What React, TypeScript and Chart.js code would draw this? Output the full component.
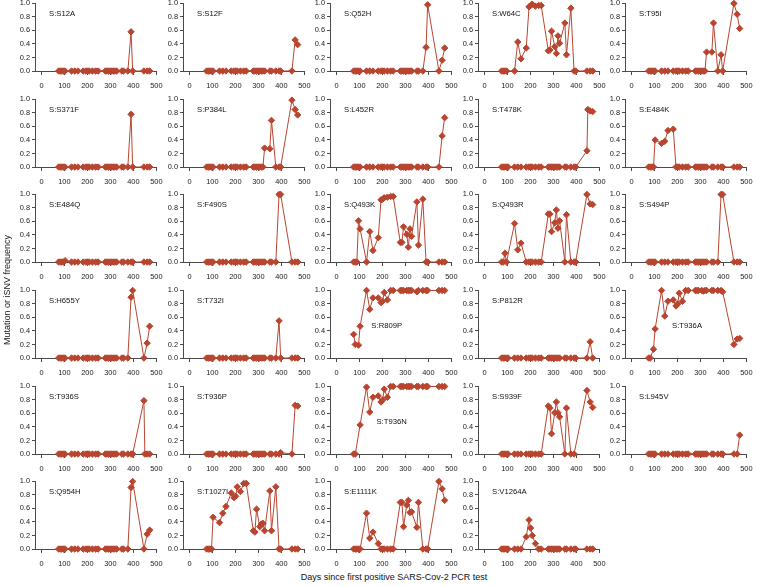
import React, { useEffect, useRef } from 'react';
import { Chart, registerables } from 'chart.js';
Chart.register(...registerables);

// ---------- data ----------
const days = [75, 82, 89, 96, 103, 131, 145, 159, 182, 194, 201, 208, 222, 236, 247, 278, 285, 292, 299, 306, 313, 320, 327, 350, 357, 376, 390, 397, 446, 450, 460, 471];
const xTicks = [0, 100, 200, 300, 400, 500];
const yTicks = [0, 0.2, 0.4, 0.6, 0.8, 1.0];

const panelNames = [
  'S:S12A', 'S:S12F', 'S:Q52H', 'S:W64C', 'S:T95I',
  'S:S371F', 'S:P384L', 'S:L452R', 'S:T478K', 'S:E484K',
  'S:E484Q', 'S:F490S', 'S:Q493K', 'S:Q493R', 'S:S494P',
  'S:H655Y', 'S:T732I', 'S:R809P', 'S:P812R', 'S:T936A',
  'S:T936S', 'S:T936P', 'S:T936N', 'S:S939F', 'S:L945V',
  'S:Q954H', 'S:T1027I', 'S:E1111K', 'S:V1264A',
];

const vS12A = [0,0,0,0,0, 0,0,0, 0,0,0,0,0,0,0, 0,0,0,0,0,0,0,0, 0,0, 0,0.58,0, 0,null,0,0];
const vS12F = [0,0,0,0,0, 0,0,0, 0,0,0,0,0,0,0, 0,0,0,0,0,0,0,0, 0,0, 0,0,0, 0,null,0.46,0.39];
const vQ52H = [0,0,0,0,0, 0,0,0, 0,0,0,0,0,0,0, 0,0,0,0,0,0,0,0, 0,0, 0,0.35,0.98, 0,null,0.16,0.34];
const vW64C = [0,0,0,0,null, 0,0.43,0.18, 0.34,0.95,0.97,0.99,0.96,0.97,0.97, 0.30,0.31,0.59,null,0.36,0.26,0.52,0.41, 0.71,0.24, 0.93,0,0, 0,null,0,0];
const vT95I = [0,0,0,0,0, 0,0,0, 0,0,0,0,0,0,0, 0,0,0,0,0,0,0,0.28, 0.28,0.71, 0,0.24,0, 1.0,null,0.84,0.63];
const vS371F = [0,0,0,0,0, 0,0,0, 0,0,0,0,0,0,0, 0,0,0,0,0,0,0,0, 0,0, 0,0.78,0, 0,null,0,0];
const vP384L = [0,0,0,0,0, 0,0,0, 0,0,0,0,0,0,0, 0,0,0,0,0,0,0,0.28, 0.27,0.69, 0,0,0, 0.99,null,0.85,0.77];
const vL452R = [0,0,0,0,0, 0,0,0, 0,0,0,0,0,0,0, 0,0,0,0,0,0,0,0, 0,0, 0,0,0, 0,null,0.46,0.73];
const vT478K = [0,0,0,0,0, 0,0,0, 0,0,0,0,0,0,0, 0,0,0,0,0,0,0,0, 0,0, 0,0,0, 0.24,0.85,0.83,0.82];
const vE484K = [0,0,0,0,0.40, 0.35,0.38,0.54, 0.56,0,0,0,0,0,0, 0,0,0,0,0,0,0,0, 0,0, 0,0,0, 0,null,0,0];
const vE484Q = [0,0,0,0,0.02, 0,0,0, 0,0,0,0,0,0,0, 0,0,0,0,0,0,0,0, 0,0, 0,0,0, 0,null,0,0];
const vF490S = [0,0,0,0,0, 0,0,0, 0,0,0,0,0,0,0, 0,0,0,0,0,0,0,0, 0,0, 0,1.0,1.0, 0,null,0,0];
const vQ493K = [0,0,0,0.61,0.49, 0,0.45,0.17, 0.36,0.92,0.93,0.95,0.96,0.97,0.97, 0.29,0.29,0.52,null,0.41,0.22,0.49,0.38, 0.89,0.25, 0.93,0,0, 0,null,0,0];
const vQ493R = [0,0,0.13,0,null, 0.57,0.18,0.28, 0,0,0,0,0,0,0, 0.71,0.71,0.45,null,0.58,0.77,0.50,0.61, 0,0.70, 0,0,0, 1.0,null,0.86,0.85];
const vS494P = [0,0,0,0,0, 0,0,0, 0,0,0,0,0,0,0, 0,0,0,0,0,0,0,0, 0,0, 0,1.0,1.0, 0,null,0,0];
const vH655Y = [0,0,0,0,0, 0,0,0, 0,0,0,0,0,0,0, 0,0,0,0,0,0,0,0, 0,0, 0,0.90,1.0, 0,null,0.22,0.47];
const vT732I = [0,0,0,0,0, 0,0,0, 0,0,0,0,0,0,0, 0,0,0,0,0,0,0,0, 0,0, 0,0.55,0, 0,null,0,0];
const vR809P = [0.35,0.20,null,0.19,0.47, 1.0,0.72,0.89, 0.89,0.82,0.84,0.97,0.86,1.0,1.0, 1.0,1.0,1.0,null,1.0,1.0,1.0,1.0, 0.98,1.0, 1.0,1.0,1.0, 1.0,null,1.0,1.0];
const vP812R = [0,0,0,0,0, 0,0,0, 0,0,0,0,0,0,0, 0,0,0,0,0,0,0,0, 0,0, 0,0,0, 0,null,0.24,0];
const vT936A = [0,0,null,0.13,0.43, 1.0,0.62,0.84, 0.86,0.77,0.80,0.96,0.84,1.0,1.0, 1.0,1.0,1.0,null,1.0,0.99,1.0,1.0, 1.0,1.0, 1.0,1.0,0.98, 0.20,null,0.28,0.29];
const vT936S = [0,0,0,0,0, 0,0,0, 0,0,0,0,0,0,0, 0,0,0,0,0,0,0,0, 0,0, 0,0,0, 0.79,0,0,0];
const vT936P = [0,0,0,0,0, 0,0,0, 0,0,0,0,0,0,0, 0,0,0,0,0,0,0,0, 0,0, 0,0,0.02, 0,null,0.72,0.71];
const vT936N = [0,0,null,null,0.43, 0.99,0.62,0.84, 0.86,0.77,0.80,0.96,0.84,1.0,1.0, 1.0,1.0,1.0,null,1.0,1.0,1.0,1.0, 1.0,1.0, 1.0,1.0,1.0, 1.0,null,1.0,1.0];
const vS939F = [0,0,0,0,0, 0,0,0, 0,0,0,0,0,0,0, 0.71,0.68,0.30,null,0.61,0.77,0.61,0.55, 0,0.68, 0,0,null, 0.94,null,0.77,0.69];
const vL945V = [0,0,0,0,0, 0,0,0, 0,0,0,0,0,0,0, 0,0,0,0,0,0,0,0, 0,0, 0,0,0, 0,null,0,0.28];
const vQ954H = [0,0,0,0,0, 0,0,0, 0,0,0,0,0,0,0, 0,0,0,0,0,0,0,0, 0,0, 0,0.91,1.0, 0,null,0.22,0.28];
const vT1027I = [0,0,0,0,0.47, 0.39,0.53,0.63, 0.83,0.76,0.78,0.92,0.85,0.97,0.97, 0.27,0.25,0.59,null,0.33,0.37,0.38,0.27, 0.86,0.27, 0.92,0,0, 0,null,0,0];
const vE1111K = [0,0,0,0,0, 0.53,0.16,0.25, 0.08,0,0,0,0,0,0, 0.69,0.69,0.33,null,0.65,0.72,0.54,0.55, 0.32,0.69, 0,0,0, 1.0,null,0.89,0.72];
const vV1264A = [0,0,0,0,0, 0,0,0, 0.18,0.43,0.31,0.20,0.08,0,0, 0,0,0,0,0,0,0,0, 0,0, 0,0,0, 0,null,0,0];

const panelValues = [
  vS12A, vS12F, vQ52H, vW64C, vT95I,
  vS371F, vP384L, vL452R, vT478K, vE484K,
  vE484Q, vF490S, vQ493K, vQ493R, vS494P,
  vH655Y, vT732I, vR809P, vP812R, vT936A,
  vT936S, vT936P, vT936N, vS939F, vL945V,
  vQ954H, vT1027I, vE1111K, vV1264A,
];

// ---------- layout / style ----------
const FONT = '"Liberation Sans", Arial, Helvetica, sans-serif';
const RED = '#b8452f';
const AXIS = '#4a4a4a';
const X_MIN = -28;
const X_MAX = 500;
const PX_PER_DAY = 0.237;
const COL0 = 41.7;
const COL_STEP = 147.6;
const ROW0 = 3.3;
const ROW_STEP = 95.55;
const PLOT_H = 68;
const YW = 28;
const XH = 22;
const PT = 6;
const PR = 9;
const defaultLabelAt = { x: 33, y: 0.85 };
const specialLabelAt: Record<string, { x: number; y: number }> = {
  'S:R809P': { x: 152, y: 0.48 },
  'S:T936A': { x: 177, y: 0.48 },
  'S:T936N': { x: 174, y: 0.47 },
};

const titlePlugin = {
  id: 'panelTitle',
  afterDatasetsDraw(chart: any) {
    const name = chart.options.plugins.panelTitle.text as string;
    const at = specialLabelAt[name] || defaultLabelAt;
    const { ctx, scales } = chart;
    ctx.save();
    ctx.font = `7.7px ${FONT}`;
    ctx.fillStyle = '#111';
    ctx.textAlign = 'left';
    ctx.textBaseline = 'middle';
    ctx.fillText(name, scales.x.getPixelForValue(at.x), scales.y.getPixelForValue(at.y));
    ctx.restore();
  },
};

function Panel({ idx }: { idx: number }) {
  const ref = useRef<HTMLCanvasElement>(null);
  const r = Math.floor(idx / 5);
  const c = idx % 5;
  const plotW = (X_MAX - X_MIN) * PX_PER_DAY;
  const chartLeft = COL0 + COL_STEP * c + X_MIN * PX_PER_DAY;
  const chartTop = ROW0 + ROW_STEP * r;
  const left = Math.round(chartLeft - YW);
  const top = Math.round(chartTop - PT);
  const W = Math.round(YW + plotW + PR);
  const H = Math.round(PT + PLOT_H + XH);

  useEffect(() => {
    const vals = panelValues[idx];
    const pts = days.map((d, i) => ({ x: d, y: vals[i] }));
    const tickFont = { family: FONT, size: 7.4 };
    const chart = new Chart(ref.current as HTMLCanvasElement, {
      type: 'line',
      data: {
        datasets: [
          {
            data: pts as any,
            borderColor: RED,
            backgroundColor: RED,
            borderWidth: 1,
            pointStyle: 'rectRot',
            pointRadius: 3.2,
            pointBorderWidth: 1,
            pointBackgroundColor: RED,
            pointBorderColor: RED,
            spanGaps: true,
            tension: 0,
            clip: false as any,
          },
        ],
      },
      options: {
        responsive: false,
        animation: false,
        events: [],
        layout: { padding: { top: PT, right: PR, left: 0, bottom: 0 } },
        plugins: {
          legend: { display: false },
          tooltip: { enabled: false },
          panelTitle: { text: panelNames[idx] },
        } as any,
        scales: {
          x: {
            type: 'linear',
            min: X_MIN,
            max: X_MAX,
            afterBuildTicks: (s: any) => {
              s.ticks = xTicks.map((v) => ({ value: v }));
            },
            afterFit: (s: any) => {
              s.height = XH;
            },
            ticks: {
              font: tickFont,
              color: '#1a1a1a',
              padding: 6.5,
              maxRotation: 0,
              autoSkip: false,
              callback: (v: any) => String(v),
            },
            grid: { display: true, drawOnChartArea: false, drawTicks: true, tickLength: 4, color: AXIS, lineWidth: 1 },
            border: { display: true, color: AXIS, width: 1 },
          },
          y: {
            type: 'linear',
            min: 0,
            max: 1,
            afterBuildTicks: (s: any) => {
              s.ticks = yTicks.map((v) => ({ value: v }));
            },
            afterFit: (s: any) => {
              s.width = YW;
            },
            ticks: {
              font: tickFont,
              color: '#1a1a1a',
              padding: 2,
              autoSkip: false,
              callback: (v: any) => Number(v).toFixed(1),
            },
            grid: { display: true, drawOnChartArea: false, drawTicks: true, tickLength: 3, color: AXIS, lineWidth: 1 },
            border: { display: true, color: AXIS, width: 1 },
          },
        },
      } as any,
      plugins: [titlePlugin],
    });
    return () => chart.destroy();
  }, [idx]);

  return (
    <canvas
      ref={ref}
      width={W}
      height={H}
      style={{ position: 'absolute', left, top, width: W, height: H }}
    />
  );
}

export default function App() {
  return (
    <div
      style={{
        position: 'absolute',
        left: 0,
        top: 0,
        width: 757,
        height: 586,
        background: '#fff',
        overflow: 'hidden',
        fontFamily: FONT,
      }}
    >
      {panelNames.map((_, i) => (
        <Panel key={i} idx={i} />
      ))}
      <div
        style={{
          position: 'absolute',
          left: 0,
          width: 788,
          top: 572,
          textAlign: 'center',
          fontSize: 9,
          color: '#111',
          whiteSpace: 'nowrap',
        }}
      >
        Days since first positive SARS-Cov-2 PCR test
      </div>
      <div
        style={{
          position: 'absolute',
          left: 7,
          top: 290,
          transform: 'translate(-50%, -50%) rotate(-90deg)',
          fontSize: 9,
          color: '#111',
          whiteSpace: 'nowrap',
        }}
      >
        Mutation or iSNV frequency
      </div>
    </div>
  );
}
